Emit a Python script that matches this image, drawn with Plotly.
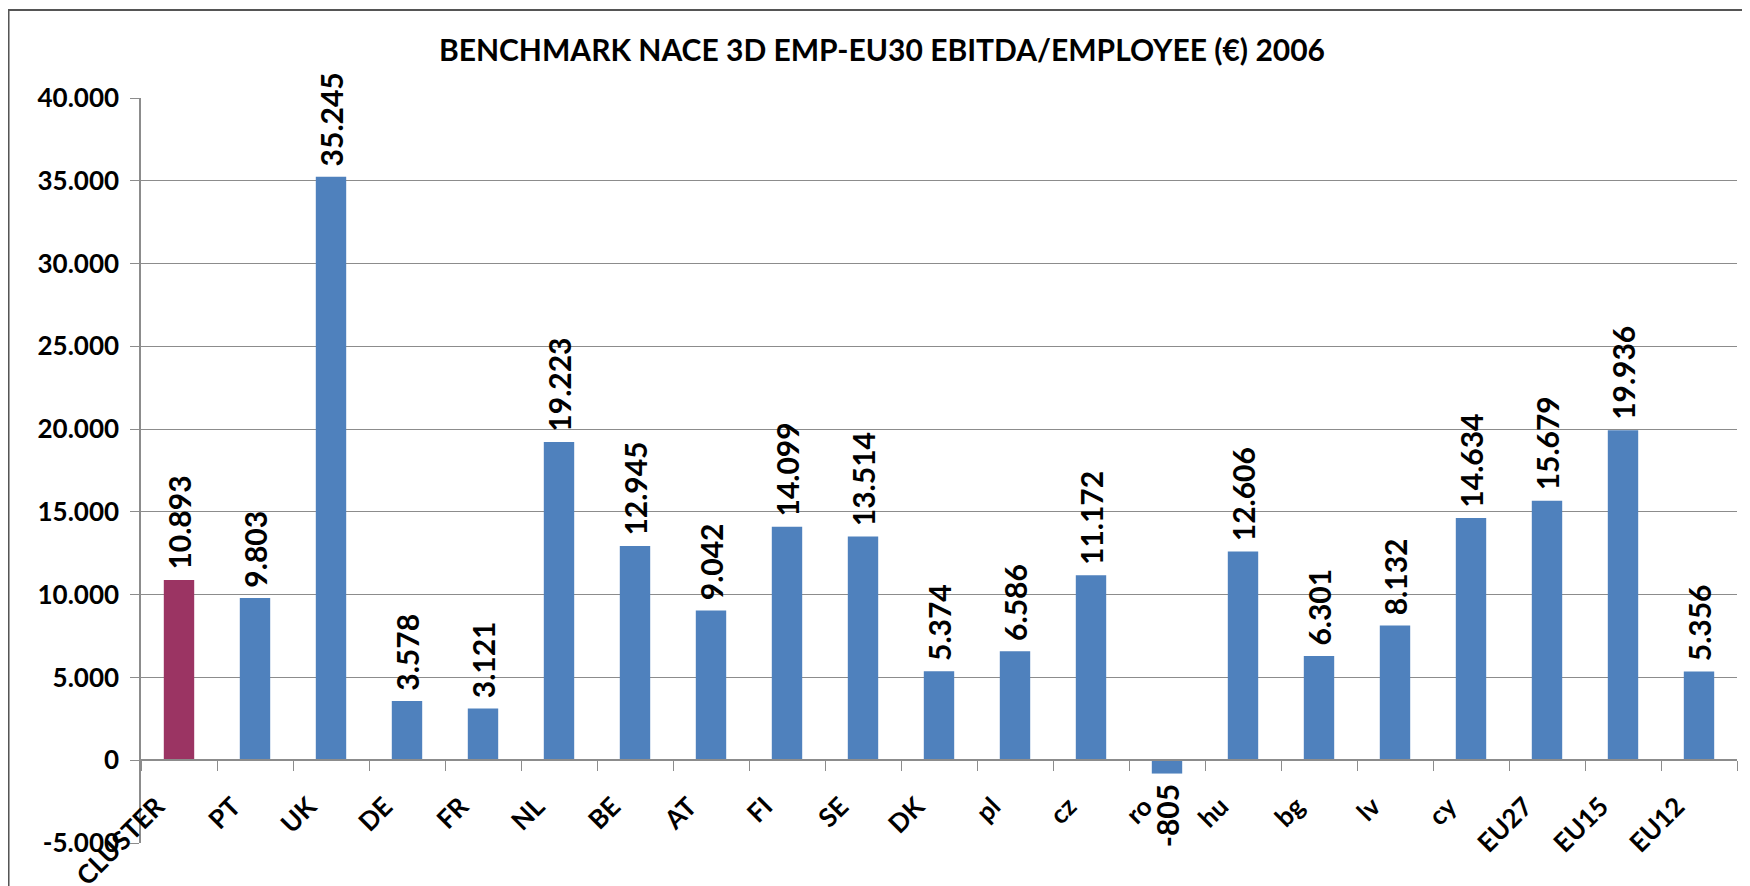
import plotly.graph_objects as go

categories = ["CLUSTER", "PT", "UK", "DE", "FR", "NL", "BE", "AT", "FI", "SE", "DK",
              "pl", "cz", "ro", "hu", "bg", "lv", "cy", "EU27", "EU15", "EU12"]
ebitda = [10893, 9803, 35245, 3578, 3121, 19223, 12945, 9042, 14099, 13514, 5374,
          6586, 11172, -805, 12606, 6301, 8132, 14634, 15679, 19936, 5356]
y_ticks = [-5000, 0, 5000, 10000, 15000, 20000, 25000, 30000, 35000, 40000]
y_ticktext = ["-5.000", "0", "5.000", "10.000", "15.000", "20.000",
              "25.000", "30.000", "35.000", "40.000"]

bar_colors = ["#9B3463" if c == "CLUSTER" else "#4F81BD" for c in categories]
# european number format, a non-breaking space keeps the label off the bar end
labels = []
for v in ebitda:
    s = f"{v:,}".replace(",", ".")
    labels.append("\u00a0" + s if v >= 0 else s + "\u00a0")

FONT = "Lato"
GRID = "#8c8c8c"

fig = go.Figure()
fig.add_trace(go.Bar(
    x=categories,
    y=ebitda,
    marker=dict(color=bar_colors, line=dict(width=0)),
    text=labels,
    textposition="outside",
    textangle=-90,
    constraintext="none",
    cliponaxis=False,
    textfont=dict(family=FONT, size=30, color="black", weight="bold"),
))

fig.update_layout(
    width=1750,
    height=886,
    margin=dict(l=133, r=21, t=90, b=51),
    paper_bgcolor="white",
    plot_bgcolor="white",
    showlegend=False,
    bargap=0.6,
    title=dict(
        text="BENCHMARK NACE 3D EMP-EU30 EBITDA/EMPLOYEE (€) 2006",
        font=dict(family=FONT, size=30, color="black", weight="bold"),
        xref="container", x=0.4994, xanchor="center",
        yref="container", y=0.952, yanchor="middle",
    ),
    xaxis=dict(
        anchor="free",
        position=5000 / 45000,
        showline=True,
        linecolor=GRID,
        linewidth=1.5,
        ticks="outside",
        ticklen=10,
        tickcolor=GRID,
        tickson="boundaries",
        tickangle=-45,
        ticklabelshift=-22,
        ticklabelstandoff=20,
        tickfont=dict(family=FONT, size=26, color="black", weight="bold"),
        showgrid=False,
        automargin=False,
    ),
    yaxis=dict(
        range=[-5000, 40000],
        tickvals=y_ticks,
        ticktext=y_ticktext,
        showline=True,
        linecolor=GRID,
        linewidth=1.5,
        ticks="outside",
        ticklen=9,
        tickcolor=GRID,
        ticklabelstandoff=6,
        showgrid=True,
        gridcolor=GRID,
        gridwidth=1,
        zeroline=False,
        tickfont=dict(family=FONT, size=26, color="black", weight="bold"),
        automargin=False,
    ),
)

# chart frame (extends past the bottom/right of the picture)
fig.add_shape(type="rect", xref="paper", yref="paper",
              x0=-0.0830, x1=1.05, y0=-0.2, y1=1.118,
              line=dict(color="#555555", width=2), layer="below")

fig.write_html("out.html")
